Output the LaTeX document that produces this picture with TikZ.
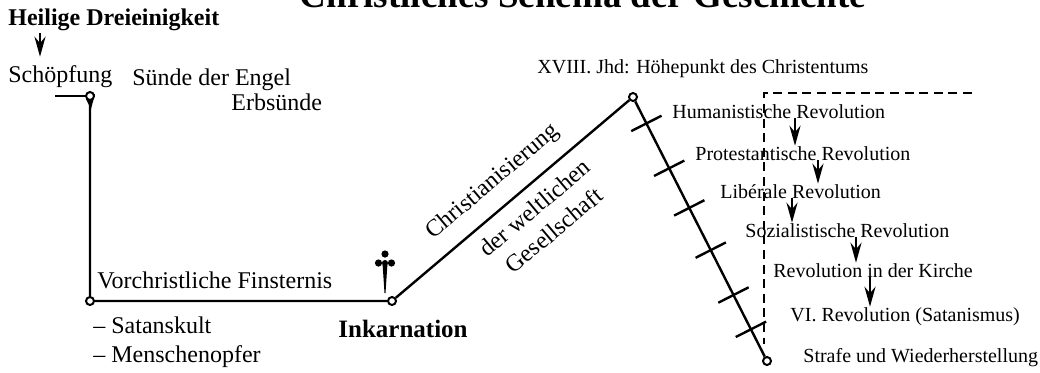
\documentclass[tikz,border=0pt]{standalone}
\usepackage{fontspec}
\setmainfont{Liberation Serif}
\usetikzlibrary{arrows.meta,calc}

\begin{document}
\begin{tikzpicture}[x=0.5pt, y=-0.5pt, >=Stealth,
  every node/.style={inner sep=0pt}]
  \tikzset{
    lbl/.style={anchor=base west, font=\fontsize{12}{15}\selectfont},
    rev/.style={anchor=base west, font=\fontsize{10}{12}\selectfont},
    pt/.style={circle, draw, fill=white, line width=1pt, minimum size=4pt},
    axis/.style={line width=1.2pt},
    revarr/.style={line width=1.3pt, -{Stealth[length=10pt, width=5.5pt]}},
  }
  \useasboundingbox (0,0) rectangle (1040,372);

  % Title (cut at the top edge)
  \node[anchor=base, font=\fontsize{18.5}{22}\selectfont\bfseries] (title) at (583,7) {Christliches Schema der Geschichte};

  % Beginning
  \node[lbl, font=\fontsize{12}{15}\selectfont\bfseries] (trinity) at (8,25) {Heilige Dreieinigkeit};
  \node[lbl] (creation) at (8,82) {Schöpfung};
  \draw[revarr, shorten <=1pt, shorten >=4pt] (trinity.south -| 40,0) -- (creation.north -| 40,0);
  \node[lbl] (angels) at (132,85) {Sünde der Engel};
  \node[lbl] (orig) at (231,110) {Erbsünde};

  % Time line
  \coordinate (start) at (55,96);
  \fill (86,99) -- (95,94) -- (91,109) -- cycle;
  \node[pt] (p1) at (90,96) {};
  \node[pt] (p2) at (90,301) {};
  \node[pt] (p3) at (392,301) {};
  \node[pt] (p4) at (633,97) {};
  \node[pt] (p5) at (767,361) {};
  \draw[axis] (start) -- (p1);
  \draw[axis] (p1) -- (p2) -- (p3) -- (p4) -- (p5);
  \foreach \t in {0.1,0.27,0.42,0.58,0.75,0.88}
    \draw[axis] ($(p4)!\t!(p5)!8.5pt!90:(p5)$) -- ($(p4)!\t!(p5)!8.5pt!-90:(p5)$);

  % Cross
  \fill (385,254) circle[radius=3.6];
  \fill (378.5,263) circle[radius=3.6];
  \fill (391.5,263) circle[radius=3.6];
  \fill (385,263) circle[radius=3];
  \fill (382.5,263) -- (387.5,263) -- (385.5,293) -- (384.5,293) -- cycle;

  % Lower labels
  \node[lbl] (dark) at (97,288) {Vorchristliche Finsternis};
  \node[lbl] (cult) at (93,333) {-- Satanskult};
  \node[lbl] (sacr) at (93,362) {-- Menschenopfer};
  \node[lbl, font=\fontsize{12.5}{15}\selectfont\bfseries] (incarn) at (338,337) {Inkarnation};

  % Ascent
  \node[rev] (peak) at (537,73) {XVIII. Jhd: Höhepunkt des Christentums};
  \node[lbl, anchor=center, rotate=40] (christ) at (493,182) {Christianisierung};
  \node[lbl, anchor=center, rotate=40, align=center] (secular) at (544,219) {der weltlichen\\Gesellschaft};

  % Revolutions
  \coordinate (d1) at (972,93);
  \coordinate (d2) at (764,93);
  \coordinate (d3) at (764,344);
  \draw[line width=1.2pt, dash pattern=on 4.5pt off 2.8pt] (d1) -- (d2) -- (d3);
  \foreach \n/\x/\y/\txt in {hum/672/118/Humanistische Revolution,
      prot/695/160/Protestantische Revolution, lib/720/198/Libérale Revolution,
      soz/745/237/Sozialistische Revolution, kir/773/277/Revolution in der Kirche,
      sat/790/321/VI. Revolution (Satanismus), strafe/803/362/Strafe und Wiederherstellung}
    \node[rev] (\n) at (\x,\y) {\txt};
  \foreach \a/\b/\x in {hum/prot/795, prot/lib/818, lib/soz/792, soz/kir/856, kir/sat/870}
    \draw[revarr] (\a.base -| \x,0) -- (\b.north -| \x,0);
\end{tikzpicture}
\end{document}
